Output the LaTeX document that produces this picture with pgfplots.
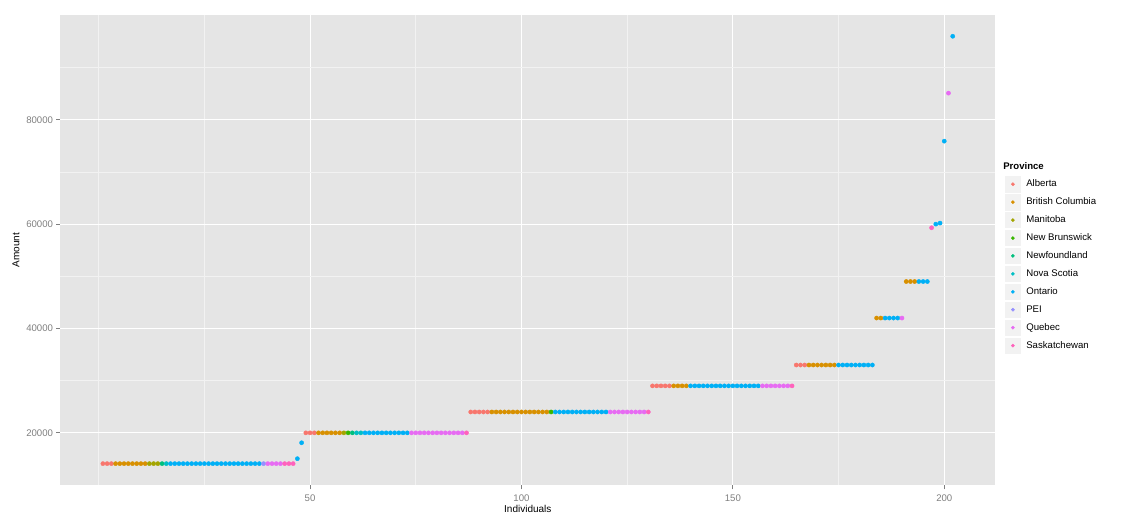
\documentclass[border=0pt]{standalone}
\usepackage{pgfplots}
\pgfplotsset{compat=1.18}
\usepackage{fontspec}
\setmainfont{Liberation Sans}

\definecolor{panelgrey}{HTML}{E5E5E5}
\definecolor{minorgrey}{HTML}{F2F2F2}
\definecolor{tickgrey}{HTML}{7F7F7F}
\definecolor{cAB}{HTML}{F8766D}
\definecolor{cBC}{HTML}{D89000}
\definecolor{cMB}{HTML}{A3A500}
\definecolor{cNB}{HTML}{39B600}
\definecolor{cNL}{HTML}{00BF7D}
\definecolor{cNS}{HTML}{00BFC4}
\definecolor{cON}{HTML}{00B0F6}
\definecolor{cPE}{HTML}{9590FF}
\definecolor{cQC}{HTML}{E76BF3}
\definecolor{cSK}{HTML}{FF62BC}

\begin{document}
\begin{tikzpicture}
\useasboundingbox (-60.4pt,-40pt) rectangle (1064.6pt,485pt);
\begin{axis}[
    scale only axis,
    width=934.8pt, height=470.1pt,
    at={(0pt,0pt)}, anchor=south west,
    clip=false,
    xmin=-9.05, xmax=212.05,
    ymin=10005, ymax=100095,
    xtick={50,100,150,200},
    minor xtick={0,25,75,125,175},
    ytick={20000,40000,60000,80000},
    minor ytick={30000,50000,70000,90000},
    scaled y ticks=false,
    /pgf/number format/.cd, 1000 sep={}, assume math mode=true,
    /pgfplots/.cd,
    axis background/.style={fill=panelgrey},
    axis x line*=bottom, axis y line*=left,
    axis line style={draw=none},
    grid=both,
    major grid style={white, line width=1.07pt},
    minor grid style={minorgrey, line width=0.53pt},
    tick align=outside,
    major tick length=4.25pt,
    minor tick length=0pt,
    major tick style={draw=tickgrey, line width=1.07pt},
    ticklabel style={font=\fontsize{9.6}{11}\selectfont, text=tickgrey},
    xticklabel style={anchor=north, inner sep=0pt, yshift=-5.2pt},
    yticklabel style={anchor=east, inner sep=0pt, xshift=-3pt},
    xlabel={Individuals}, ylabel={Amount},
    label style={font=\fontsize{12}{14}\selectfont},
    every axis x label/.style={at={(axis description cs:0.5,-0.0511)}, anchor=center},
    every axis y label/.style={at={(axis description cs:-0.0475,0.5)}, rotate=90, anchor=center},
    legend style={
        at={(axis description cs:1.0094,0.6587)}, anchor=north west,
        draw=none, fill=none, inner sep=0pt, outer sep=0pt,
        row sep=0.15pt,
        font=\fontsize{9.6}{11}\selectfont,
        nodes={inner sep=0pt},
    },
    legend cell align=left,
    legend image code/.code={
        \fill[fill=minorgrey, draw=white, line width=0.5pt] (0pt,-8.64pt) rectangle (17.28pt,8.64pt);
        \fill (8.64pt,0pt) circle (1.6pt);
        \path (21.9pt,0pt);
    },
    every axis plot/.append style={only marks, mark=*, mark size=2.1pt},
]
% Alberta
\addplot[color=cAB, mark options={draw=none, fill=cAB}] coordinates {
    (1,14100)(2,14100)(3,14100)
    (49,20000)(50,20000)(51,20000)
    (88,24000)(89,24000)(90,24000)(91,24000)(92,24000)
    (131,29000)(132,29000)(133,29000)(134,29000)(135,29000)
    (165,33000)(166,33000)(167,33000)
};
% British Columbia
\addplot[color=cBC, mark options={draw=none, fill=cBC}] coordinates {
    (4,14100)(5,14100)(6,14100)(7,14100)(8,14100)(9,14100)(10,14100)(11,14100)
    (52,20000)(53,20000)(54,20000)(55,20000)(56,20000)(57,20000)
    (93,24000)(94,24000)(95,24000)(96,24000)(97,24000)(98,24000)(99,24000)
    (100,24000)(101,24000)(102,24000)(103,24000)(104,24000)(105,24000)(106,24000)
    (136,29000)(137,29000)(138,29000)(139,29000)
    (168,33000)(169,33000)(170,33000)(171,33000)(172,33000)(173,33000)(174,33000)
    (184,42000)(185,42000)
    (191,49000)(192,49000)(193,49000)
};
% Manitoba
\addplot[color=cMB, mark options={draw=none, fill=cMB}] coordinates {
    (12,14100)(13,14100)(14,14100)
    (58,20000)
};
% New Brunswick
\addplot[color=cNB, mark options={draw=none, fill=cNB}] coordinates {
    (59,20000)
    (107,24000)
};
% Newfoundland
\addplot[color=cNL, mark options={draw=none, fill=cNL}] coordinates {
    (15,14100)
    (60,20000)
};
% Nova Scotia
\addplot[color=cNS, mark options={draw=none, fill=cNS}] coordinates {
    (16,14100)
    (61,20000)(62,20000)
};
% Ontario
\addplot[color=cON, mark options={draw=none, fill=cON}] coordinates {
    (17,14100)(18,14100)(19,14100)(20,14100)(21,14100)(22,14100)(23,14100)(24,14100)
    (25,14100)(26,14100)(27,14100)(28,14100)(29,14100)(30,14100)(31,14100)(32,14100)
    (33,14100)(34,14100)(35,14100)(36,14100)(37,14100)(38,14100)
    (47,15050)(48,18100)
    (63,20000)(64,20000)(65,20000)(66,20000)(67,20000)(68,20000)(69,20000)
    (70,20000)(71,20000)(72,20000)(73,20000)
    (108,24000)(109,24000)(110,24000)(111,24000)(112,24000)(113,24000)(114,24000)
    (115,24000)(116,24000)(117,24000)(118,24000)(119,24000)(120,24000)
    (140,29000)(141,29000)(142,29000)(143,29000)(144,29000)(145,29000)(146,29000)
    (147,29000)(148,29000)(149,29000)(150,29000)(151,29000)(152,29000)(153,29000)
    (154,29000)(155,29000)(156,29000)
    (175,33000)(176,33000)(177,33000)(178,33000)(179,33000)(180,33000)(181,33000)
    (182,33000)(183,33000)
    (186,42000)(187,42000)(188,42000)(189,42000)
    (194,49000)(195,49000)(196,49000)
    (198,60000)(199,60200)(200,75900)(202,96000)
};
% PEI
\addplot[color=cPE, mark options={draw=none, fill=cPE}] coordinates {
    (39,14100)
};
% Quebec
\addplot[color=cQC, mark options={draw=none, fill=cQC}] coordinates {
    (40,14100)(41,14100)(42,14100)(43,14100)
    (74,20000)(75,20000)(76,20000)(77,20000)(78,20000)(79,20000)(80,20000)
    (81,20000)(82,20000)(83,20000)(84,20000)(85,20000)(86,20000)
    (121,24000)(122,24000)(123,24000)(124,24000)(125,24000)(126,24000)(127,24000)
    (128,24000)(129,24000)
    (157,29000)(158,29000)(159,29000)(160,29000)(161,29000)(162,29000)(163,29000)
    (190,42000)
    (201,85100)
};
% Saskatchewan
\addplot[color=cSK, mark options={draw=none, fill=cSK}] coordinates {
    (44,14100)(45,14100)(46,14100)
    (87,20000)
    (130,24000)
    (164,29000)
    (197,59300)
};
\legend{Alberta,British Columbia,Manitoba,New Brunswick,Newfoundland,Nova Scotia,Ontario,PEI,Quebec,Saskatchewan}
\node[anchor=west, inner sep=0pt, font=\fontsize{9.6}{11}\selectfont\bfseries]
    at (axis description cs:1.0084,0.6786) {Province};
\end{axis}
\end{tikzpicture}
\end{document}
